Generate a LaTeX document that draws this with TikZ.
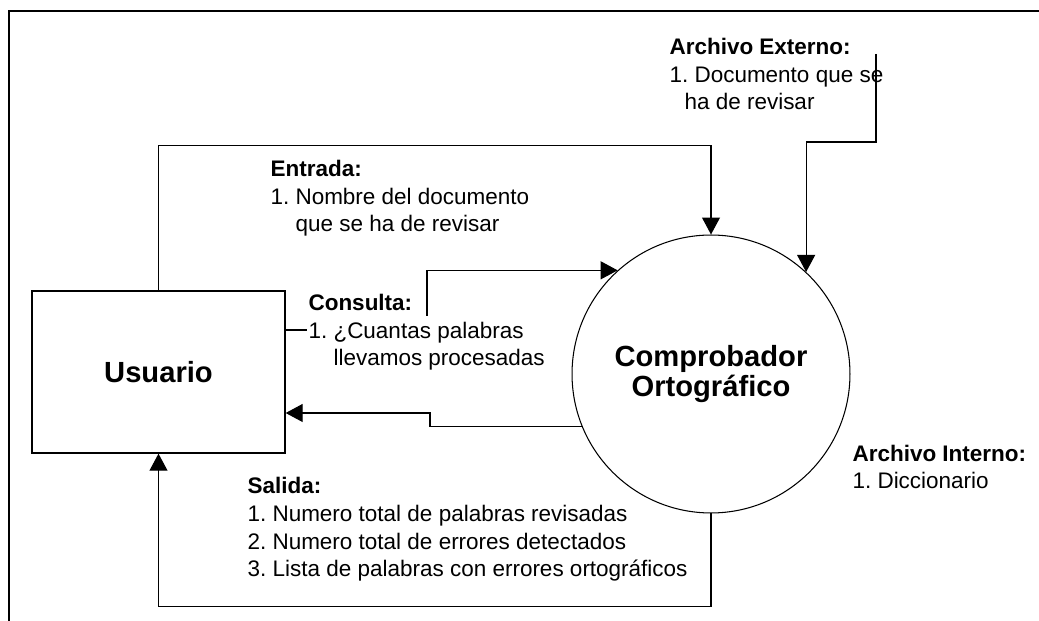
\documentclass[tikz,border=0pt]{standalone}
\usepackage{fontspec}
\setmainfont{Liberation Sans}
\usetikzlibrary{arrows.meta}

\begin{document}
\frenchspacing
\begin{tikzpicture}
	[x=0.02cm,y=-0.02cm,>={Triangle[length=0.34cm,width=0.36cm]},line width=0.6pt,
		flow/.style={->},
		label text/.style={anchor=base west,inner sep=0pt,align=left,font=\fontsize{12.8}{15.9}\selectfont},
		big text/.style={font=\fontsize{16.6}{16.6}\selectfont\bfseries},
		entity node/.style={rectangle,draw,line width=0.8pt,minimum width=5.06cm,minimum height=3.24cm,big text},
		process node/.style={circle,draw,minimum size=5.56cm,inner sep=0pt,align=center,big text}]

	\useasboundingbox (0,0) rectangle (1039,621);
	\draw[line width=1.1pt] (1039,11) -- (9,11) -- (9,621);

	\node[entity node] (user) at (158.5,372) {Usuario};
	\node[process node] (proc) at (711,374) {Comprobador\\Ortográfico};

	% base = baseline of the last line
	\node[label text] (ext) at (669,110) {\textbf{Archivo Externo:}\\1. Documento que se\\\hspace{0.3cm}ha de revisar};
	\node[label text] (ent) at (270,232) {\textbf{Entrada:}\\1. Nombre del documento\\\phantom{1. }que se ha de revisar};
	\node[label text] (qry) at (308,366) {\textbf{Consulta:}\\1. ¿Cuantas palabras\\\phantom{1. }llevamos procesadas};
	\node[label text] (out) at (247,577) {\textbf{Salida:}\\1. Numero total de palabras revisadas\\2. Numero total de errores detectados\\3. Lista de palabras con errores ortográficos};
	\node[label text] (int) at (852,489) {\textbf{Archivo Interno:}\\1. Diccionario};

	\coordinate (src) at (876,54);
	\coordinate (qa) at (307,330);
	\coordinate (qb) at (427,316);
	\coordinate (rb) at (430,413);

	% flujos
	\draw[flow] (user.north) -- ++(0,-145) -| (proc.north);
	\draw[flow] (src) -- ++(0,88) -| (proc.47);
	\draw (user.east |- qa) -- (qa);
	\draw[flow] (qb) |- (proc.132);
	\draw[flow] (proc.202) -| (rb) -- (user.east |- rb);
	\draw[flow] (proc.south) -- ++(0,93) -| (user.south);
\end{tikzpicture}
\end{document}
